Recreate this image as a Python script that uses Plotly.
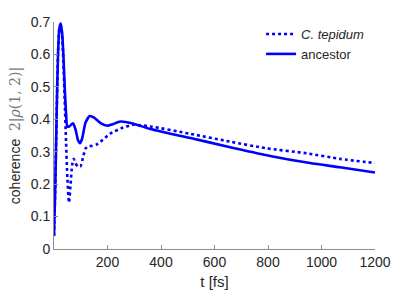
import plotly.graph_objects as go

# C. tepidum (dotted)
t_tep = [0, 5, 10, 15, 20, 25, 30, 35, 40, 45, 50, 56, 62, 68, 74, 80, 89, 99, 108, 118, 130, 143,
         161, 174, 209, 250, 297, 360, 510, 659, 790, 945, 1069, 1200]
c_tep = [0.04, 0.2, 0.42, 0.6, 0.68, 0.69, 0.66, 0.58, 0.46, 0.33, 0.22, 0.143, 0.2, 0.26, 0.278,
         0.265, 0.254, 0.255, 0.28, 0.31, 0.317, 0.318, 0.323, 0.331, 0.355, 0.372, 0.383, 0.378,
         0.355, 0.331, 0.311, 0.295, 0.278, 0.265]

# ancestor (solid)
t_anc = [0, 5, 10, 15, 20, 25, 30, 35, 40, 45, 50, 60, 71, 80, 90, 97, 105, 118, 134, 150, 174,
         199, 220, 248, 290, 360, 510, 659, 808, 957, 1069, 1200]
c_anc = [0.04, 0.2, 0.42, 0.6, 0.68, 0.695, 0.67, 0.6, 0.5, 0.42, 0.377, 0.38, 0.388, 0.37,
         0.335, 0.326, 0.34, 0.39, 0.41, 0.405, 0.388, 0.38, 0.385, 0.393, 0.388, 0.370, 0.342,
         0.314, 0.287, 0.265, 0.252, 0.236]

x_ticks = [200, 400, 600, 800, 1000, 1200]
y_ticks = [0, 0.1, 0.2, 0.3, 0.4, 0.5, 0.6, 0.7]
y_tick_text = ["0", "0.1", "0.2", "0.3", "0.4", "0.5", "0.6", "0.7"]

FONT = "Liberation Sans, Arial, Helvetica"

fig = go.Figure()
fig.add_trace(go.Scatter(x=t_tep, y=c_tep, mode="lines", name="<i>C. tepidum</i>",
                         line=dict(color="#0000FF", width=2.6, dash="dot", shape="spline", smoothing=0.6)))
fig.add_trace(go.Scatter(x=t_anc, y=c_anc, mode="lines", name="ancestor",
                         line=dict(color="#0000FF", width=2.6, shape="spline", smoothing=0.6)))

axis_common = dict(showgrid=False, zeroline=False, showline=True, linecolor="#8c8c8c", linewidth=1,
                   ticks="inside", ticklen=4, tickcolor="#8c8c8c", automargin=False,
                   tickfont=dict(family=FONT, size=14, color="#262626"))

fig.update_layout(
    width=415, height=290,
    margin=dict(l=54, r=40, t=22, b=41),
    paper_bgcolor="white", plot_bgcolor="white",
    showlegend=True,
    legend=dict(x=0.645, y=1.013, xanchor="left", yanchor="top", bgcolor="rgba(0,0,0,0)",
                font=dict(family=FONT, size=13, color="#262626"),
                itemwidth=30, tracegroupgap=0),
    xaxis=dict(range=[0, 1200], tickvals=x_ticks,
               title=dict(text="t [fs]", standoff=7,
                          font=dict(family=FONT, size=15, color="#262626")),
               **axis_common),
    yaxis=dict(range=[0, 0.7], tickvals=y_ticks, ticktext=y_tick_text,
               title=dict(text="coherence  <span style='color:#777777;font-family:DejaVu Serif'>2|<i>ρ</i>(1, 2)|</span>",
                          standoff=6,
                          font=dict(family=FONT, size=14, color="#262626")),
               **axis_common),
)

fig.write_html("out.html", config={"displayModeBar": False},
               post_script="document.body.style.margin='0';")
